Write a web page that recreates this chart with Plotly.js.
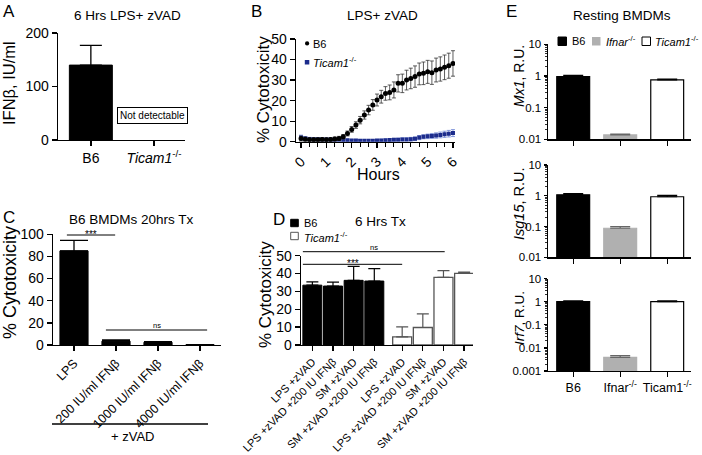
<!DOCTYPE html>
<html><head><meta charset="utf-8">
<script src="https://cdn.plot.ly/plotly-3.0.1.min.js"></script>
<style>html,body{margin:0;padding:0;background:#fff}#chart{width:702px;height:455px}</style>
</head><body><div id="chart"></div><script>
// ---------- Panel A: IFNb ----------
const aGroups = ['B6', 'Ticam1'];
const aGroupLabels = ['B6', '<i>Ticam1</i><sup>-/-</sup>'];
const aIfnb = [140, null];
const aIfnbErr = [37, 0];

// ---------- Panel B: time course ----------
const bMinutes = [0,10,20,30,40,50,60,70,80,90,100,110,120,130,140,150,160,170,180,190,200,210,220,230,240,250,260,270,280,290,300,310,320,330,340,350,360];
const bB6 = [1.5,1.2,1.0,1.0,1.0,1.1,1.0,1.1,1.3,1.6,2.4,4.0,6.0,8.1,10.5,13.0,15.4,17.9,20.3,21.9,23.5,24.0,25.2,28.4,28.4,30.0,30.8,31.7,33.0,33.3,34.0,33.6,34.9,35.4,36.2,37.0,38.1];
const bB6Err = [1.2,1.0,0.9,0.9,0.9,0.9,0.9,0.9,1.0,1.0,1.1,1.2,1.4,1.6,1.8,2.0,2.3,2.6,2.9,3.1,3.3,3.6,3.9,4.2,4.5,4.8,5.0,5.2,5.3,5.5,5.6,5.7,5.8,5.9,6.0,6.1,6.2];
const bTicam = [2.0,1.5,1.3,1.2,1.2,1.1,1.1,1.0,1.0,0.9,0.8,0.7,0.6,0.6,0.5,0.5,0.5,0.5,0.6,0.6,0.7,0.8,0.9,1.0,1.1,1.1,1.2,1.4,2.0,2.4,2.6,2.8,3.0,3.3,3.6,3.9,4.2];
const bTicamErr = [1.2,1.0,0.8,0.8,0.8,0.7,0.7,0.7,0.6,0.6,0.5,0.5,0.5,0.5,0.5,0.5,0.5,0.5,0.5,0.6,0.6,0.6,0.7,0.7,0.8,0.8,0.9,0.9,1.0,1.0,1.1,1.2,1.3,1.4,1.5,1.6,1.7];
const bHourTicks = [0,1,2,3,4,5,6];

// ---------- Panel C ----------
const cConds = ['LPS', '200 IU/ml IFNβ', '1000 IU/ml IFNβ', '4000 IU/ml IFNβ'];
const cVals = [85, 3.5, 2.5, 0.3];
const cErr = [9.5, 1.2, 0.5, 0.1];

// ---------- Panel D ----------
const dConds = ['LPS +zVAD', 'LPS +zVAD +200 IU IFNβ', 'SM +zVAD', 'SM +zVAD +200 IU IFNβ'];
const dB6 = [33.5, 33.0, 36.2, 35.8];
const dB6Err = [1.8, 2.2, 7.8, 7.0];
const dTicam = [4.5, 9.8, 37.9, 40.1];
const dTicamErr = [5.6, 7.6, 3.7, 0.7];

// ---------- Panel E ----------
const eGenotypes = ['B6', 'Ifnar', 'Ticam1'];
const eGenoLabels = ['B6', 'Ifnar<sup>-/-</sup>', 'Ticam1<sup>-/-</sup>'];
const eGenes = ['Mx1', 'Isg15', 'Irf7'];
const eMx1 = [0.95, 0.0137, 0.75];
const eMx1Err = [0.1, 0.001, 0.05];
const eIsg15 = [1.08, 0.088, 0.93];
const eIsg15Err = [0.1, 0.011, 0.1];
const eIrf7 = [1.0, 0.0039, 1.0];
const eIrf7Err = [0.1, 0.0007, 0.1];

// ================= drawing =================
const FONT = 'Liberation Sans, Arial, Helvetica, sans-serif';
const W = 702, H = 455;
const X = px => px / W;
const Y = py => 1 - py / H;
const zeros = n => new Array(n).fill(0);

const upErr = (arr, color, thick, width) => ({type:'data', array: arr, arrayminus: zeros(arr.length), symmetric:false, color: color, thickness: thick, width: width, visible:true});

const traces = [];
// A
traces.push({type:'bar', x: aGroups, y: aIfnb, xaxis:'x', yaxis:'y', width:0.68,
  marker:{color:'black', line:{color:'black', width:1}}, error_y: upErr(aIfnbErr, 'black', 1.3, 11), hoverinfo:'skip'});
// B
const bHours = bMinutes.map(m => m / 60);
traces.push({type:'scatter', mode:'markers', x: bHours, y: bTicam, xaxis:'x2', yaxis:'y2',
  marker:{symbol:'square', size:4, color:'#1c2c8c'}, error_y:{type:'data', array:bTicamErr, color:'#6f86d6', thickness:0.8, width:2}, hoverinfo:'skip'});
traces.push({type:'scatter', mode:'markers', x: bHours, y: bB6, xaxis:'x2', yaxis:'y2',
  marker:{symbol:'circle', size:5, color:'black'}, error_y:{type:'data', array:bB6Err, color:'#333', thickness:0.8, width:2}, hoverinfo:'skip'});
// C
traces.push({type:'bar', x: cConds, y: cVals, xaxis:'x3', yaxis:'y3', width:0.67,
  marker:{color:'black', line:{color:'black', width:1}}, error_y: upErr(cErr, 'black', 1.3, 14), hoverinfo:'skip'});
// D
const dPosB6 = dConds.map((c, i) => i);
const dPosTicam = dConds.map((c, i) => i + 4.35);
traces.push({type:'bar', x: dPosB6, y: dB6, xaxis:'x4', yaxis:'y4', width:0.92,
  marker:{color:'black', line:{color:'black', width:1}}, error_y: upErr(dB6Err, 'black', 1.2, 6), hoverinfo:'skip'});
traces.push({type:'bar', x: dPosTicam, y: dTicam, xaxis:'x4', yaxis:'y4', width:0.92,
  marker:{color:'white', line:{color:'#555', width:1.3}}, error_y: upErr(dTicamErr, '#555', 1.2, 6), hoverinfo:'skip'});
// E
const eFill = ['black', '#b0b0b0', 'white'];
const eLine = ['black', '#b0b0b0', 'black'];
const eErrCol = ['black', '#666', 'black'];
const eData = [[eMx1, eMx1Err], [eIsg15, eIsg15Err], [eIrf7, eIrf7Err]];
eData.forEach((d, k) => {
  eGenotypes.forEach((g, j) => {
    traces.push({type:'bar', x:[g], y:[d[0][j]], xaxis:'x' + (5 + k), yaxis:'y' + (5 + k), width:0.7,
      marker:{color:eFill[j], line:{color:eLine[j], width:1.2}},
      error_y: upErr([d[1][j]], eErrCol[j], 1.2, 10), hoverinfo:'skip'});
  });
});

const axBase = {showline:true, linecolor:'black', linewidth:1.3, ticks:'outside', ticklen:5, tickwidth:1.3,
  tickcolor:'black', showgrid:false, zeroline:false, fixedrange:true,
  tickfont:{family:FONT, size:14, color:'black'}};
const ax = (o) => Object.assign({}, axBase, o);
const logAx = (o) => ax(Object.assign({type:'log', dtick:1, exponentformat:'none', ticklen:3.5, tickfont:{family:FONT, size:11.5, color:'black'},
  minor:{ticks:'outside', ticklen:2.5, tickwidth:0.8, tickcolor:'black', showgrid:false}}, o));

const layout = {
  width: W, height: H, margin:{l:0, r:0, t:0, b:0}, paper_bgcolor:'white', plot_bgcolor:'rgba(0,0,0,0)',
  showlegend:false, barmode:'overlay', font:{family:FONT, color:'black'},
  // A
  xaxis: ax({domain:[X(58), X(185)], anchor:'y', type:'category', range:[-0.52, 1.49], tickvals:aGroups, ticktext:aGroupLabels}),
  yaxis: ax({domain:[Y(140), Y(33)], anchor:'x', range:[0, 200], tickvals:[0, 100, 200]}),
  // B
  xaxis2: ax({domain:[X(296), X(455)], anchor:'y2', range:[-0.2, 6.08], tickvals:bHourTicks, tickangle:-45,
    minor:{ticks:'outside', ticklen:4, tickwidth:1, tickcolor:'black', dtick:1/3, tick0:0, showgrid:false}}),
  yaxis2: ax({domain:[Y(141.7), Y(39)], anchor:'x2', range:[0, 50], dtick:10}),
  // C
  xaxis3: ax({domain:[X(53), X(221)], anchor:'y3', type:'category', range:[-0.5, 3.5], tickangle:-45,
    tickfont:{family:FONT, size:12.5, color:'black'}}),
  yaxis3: ax({domain:[Y(345), Y(234.3)], anchor:'x3', range:[0, 100], dtick:20}),
  // D
  xaxis4: ax({domain:[X(301), X(473)], anchor:'y4', range:[-0.55, 7.78], tickangle:-45,
    tickvals: dPosB6.concat(dPosTicam), ticktext: dConds.concat(dConds), tickfont:{family:FONT, size:11, color:'black'}}),
  yaxis4: ax({domain:[Y(345), Y(255.7)], anchor:'x4', range:[0, 50], dtick:10}),
  // E
  xaxis5: ax({domain:[X(548.3), X(690.7)], anchor:'y5', type:'category', categoryarray:eGenotypes, range:[-0.53, 2.5], showticklabels:false}),
  yaxis5: logAx({domain:[Y(139.3), Y(44.3)], anchor:'x5', range:[-2, 1]}),
  xaxis6: ax({domain:[X(548.3), X(690.7)], anchor:'y6', type:'category', categoryarray:eGenotypes, range:[-0.53, 2.5], showticklabels:false}),
  yaxis6: logAx({domain:[Y(257.3), Y(165)], anchor:'x6', range:[-2, 1]}),
  xaxis7: ax({domain:[X(548.3), X(690.7)], anchor:'y7', type:'category', categoryarray:eGenotypes, range:[-0.53, 2.5],
    tickvals:eGenotypes, ticktext:eGenoLabels, tickfont:{family:FONT, size:12.5, color:'black'}}),
  yaxis7: logAx({domain:[Y(371), Y(278.6)], anchor:'x7', range:[-3, 1]}),
  shapes: [], annotations: []
};

const txt = (text, x, y, size, opts) => Object.assign({text:text, x:X(x), y:Y(y), xref:'paper', yref:'paper', showarrow:false,
  font:{family:FONT, size:size, color:'#000000'}, xanchor:'center', yanchor:'middle'}, opts || {});
const A = layout.annotations, S = layout.shapes;
// panel letters
[['A', 1, 0], ['B', 249, 0], ['C', 1, 206], ['D', 271, 208], ['E', 504, 0]].forEach(l =>
  A.push(txt(l[0], l[1], l[2], 17, {xanchor:'left', yanchor:'top'})));
// titles
A.push(txt('6 Hrs LPS+ zVAD', 127, 16, 13.5));
A.push(txt('LPS+ zVAD', 382, 16, 13.5));
A.push(txt('B6 BMDMs 20hrs Tx', 131, 219, 13.5));
A.push(txt('6 Hrs Tx', 381, 221, 13.5));
A.push(txt('Resting BMDMs', 622, 16, 13.5));
// y titles
A.push(txt('IFNβ, IU/ml', 9, 83, 16.5, {textangle:-90}));
A.push(txt('% Cytotoxicity', 264, 90, 17, {textangle:-90}));
A.push(txt('% Cytotoxicity', 10, 283, 18, {textangle:-90}));
A.push(txt('% Cytotoxicity', 265, 295, 17, {textangle:-90}));
A.push(txt('<i>Mx1</i>, R.U.', 519, 76, 14, {textangle:-90}));
A.push(txt('<i>Isg15</i>, R.U.', 519, 204, 14.5, {textangle:-90}));
A.push(txt('<i>Irf7</i>, R.U.', 519, 318, 13.5, {textangle:-90}));
A.push(txt('Hours', 378, 174, 16));
// A: not detectable
A.push(txt('Not detectable', 152, 115.5, 10, {bordercolor:'black', borderwidth:1, borderpad:2, bgcolor:'white'}));
// B legend
S.push({type:'circle', xref:'paper', yref:'paper', x0:X(305), x1:X(309.2), y0:Y(45.5), y1:Y(41.3), fillcolor:'black', line:{width:0}});
A.push(txt('B6', 311, 44, 11, {xanchor:'left'}));
S.push({type:'rect', xref:'paper', yref:'paper', x0:X(304.8), x1:X(309.3), y0:Y(64.5), y1:Y(60), fillcolor:'#1c2c8c', line:{width:0}});
A.push(txt('<i>Ticam1</i><sup>-/-</sup>', 311, 62, 11, {xanchor:'left'}));
// D legend
S.push({type:'rect', xref:'paper', yref:'paper', x0:X(290.7), x1:X(298.3), y0:Y(226.7), y1:Y(219.3), fillcolor:'black', line:{color:'black', width:1}});
A.push(txt('B6', 302, 223, 11, {xanchor:'left'}));
S.push({type:'rect', xref:'paper', yref:'paper', x0:X(290.7), x1:X(298.3), y0:Y(239.7), y1:Y(232.3), fillcolor:'white', line:{color:'#555', width:1}});
A.push(txt('<i>Ticam1</i><sup>-/-</sup>', 302, 236.5, 11, {xanchor:'left'}));
// E legend
S.push({type:'rect', xref:'paper', yref:'paper', x0:X(558), x1:X(566.5), y0:Y(45.5), y1:Y(37), fillcolor:'black', line:{color:'black', width:1}});
A.push(txt('B6', 570, 41, 11, {xanchor:'left'}));
S.push({type:'rect', xref:'paper', yref:'paper', x0:X(592), x1:X(600.5), y0:Y(45.5), y1:Y(37), fillcolor:'#b0b0b0', line:{width:0}});
A.push(txt('<i>Ifnar</i><sup>-/-</sup>', 604, 41, 11, {xanchor:'left'}));
S.push({type:'rect', xref:'paper', yref:'paper', x0:X(642), x1:X(650.5), y0:Y(45.5), y1:Y(37), fillcolor:'white', line:{color:'black', width:1}});
A.push(txt('<i>Ticam1</i><sup>-/-</sup>', 653, 41, 11, {xanchor:'left'}));
// significance: C
const sig = (xref, x0, x1, py) => S.push({type:'line', xref:xref, yref:'paper', x0:x0, x1:x1, y0:Y(py), y1:Y(py), line:{color:'black', width:1}});
const sigTxt = (text, xref, x, py, size) => A.push({text:text, xref:xref, x:x, yref:'paper', y:Y(py), xanchor:'center', yanchor:'middle',
  showarrow:false, font:{family:FONT, size:size, color:'#000000'}});
sig('x3', -0.17, 0.98, 235);
sigTxt('***', 'x3', 0.4, 234.5, 10);
sig('x3', 0.76, 3.17, 330);
sigTxt('ns', 'x3', 1.97, 325, 7.5);
// significance: D
sig('x4', -0.46, 4.35, 264.3);
sigTxt('***', 'x4', 1.95, 263.5, 10);
sig('x4', -0.46, 6.41, 251.7);
sigTxt('ns', 'x4', 3.0, 247.3, 7.5);
// + zVAD bracket
S.push({type:'line', xref:'paper', yref:'paper', x0:X(52), x1:X(208), y0:Y(424), y1:Y(424), line:{color:'black', width:1.3}});
A.push(txt('+ zVAD', 132, 436, 13));

Plotly.newPlot('chart', traces, layout, {staticPlot:true, displayModeBar:false});
</script></body></html>
